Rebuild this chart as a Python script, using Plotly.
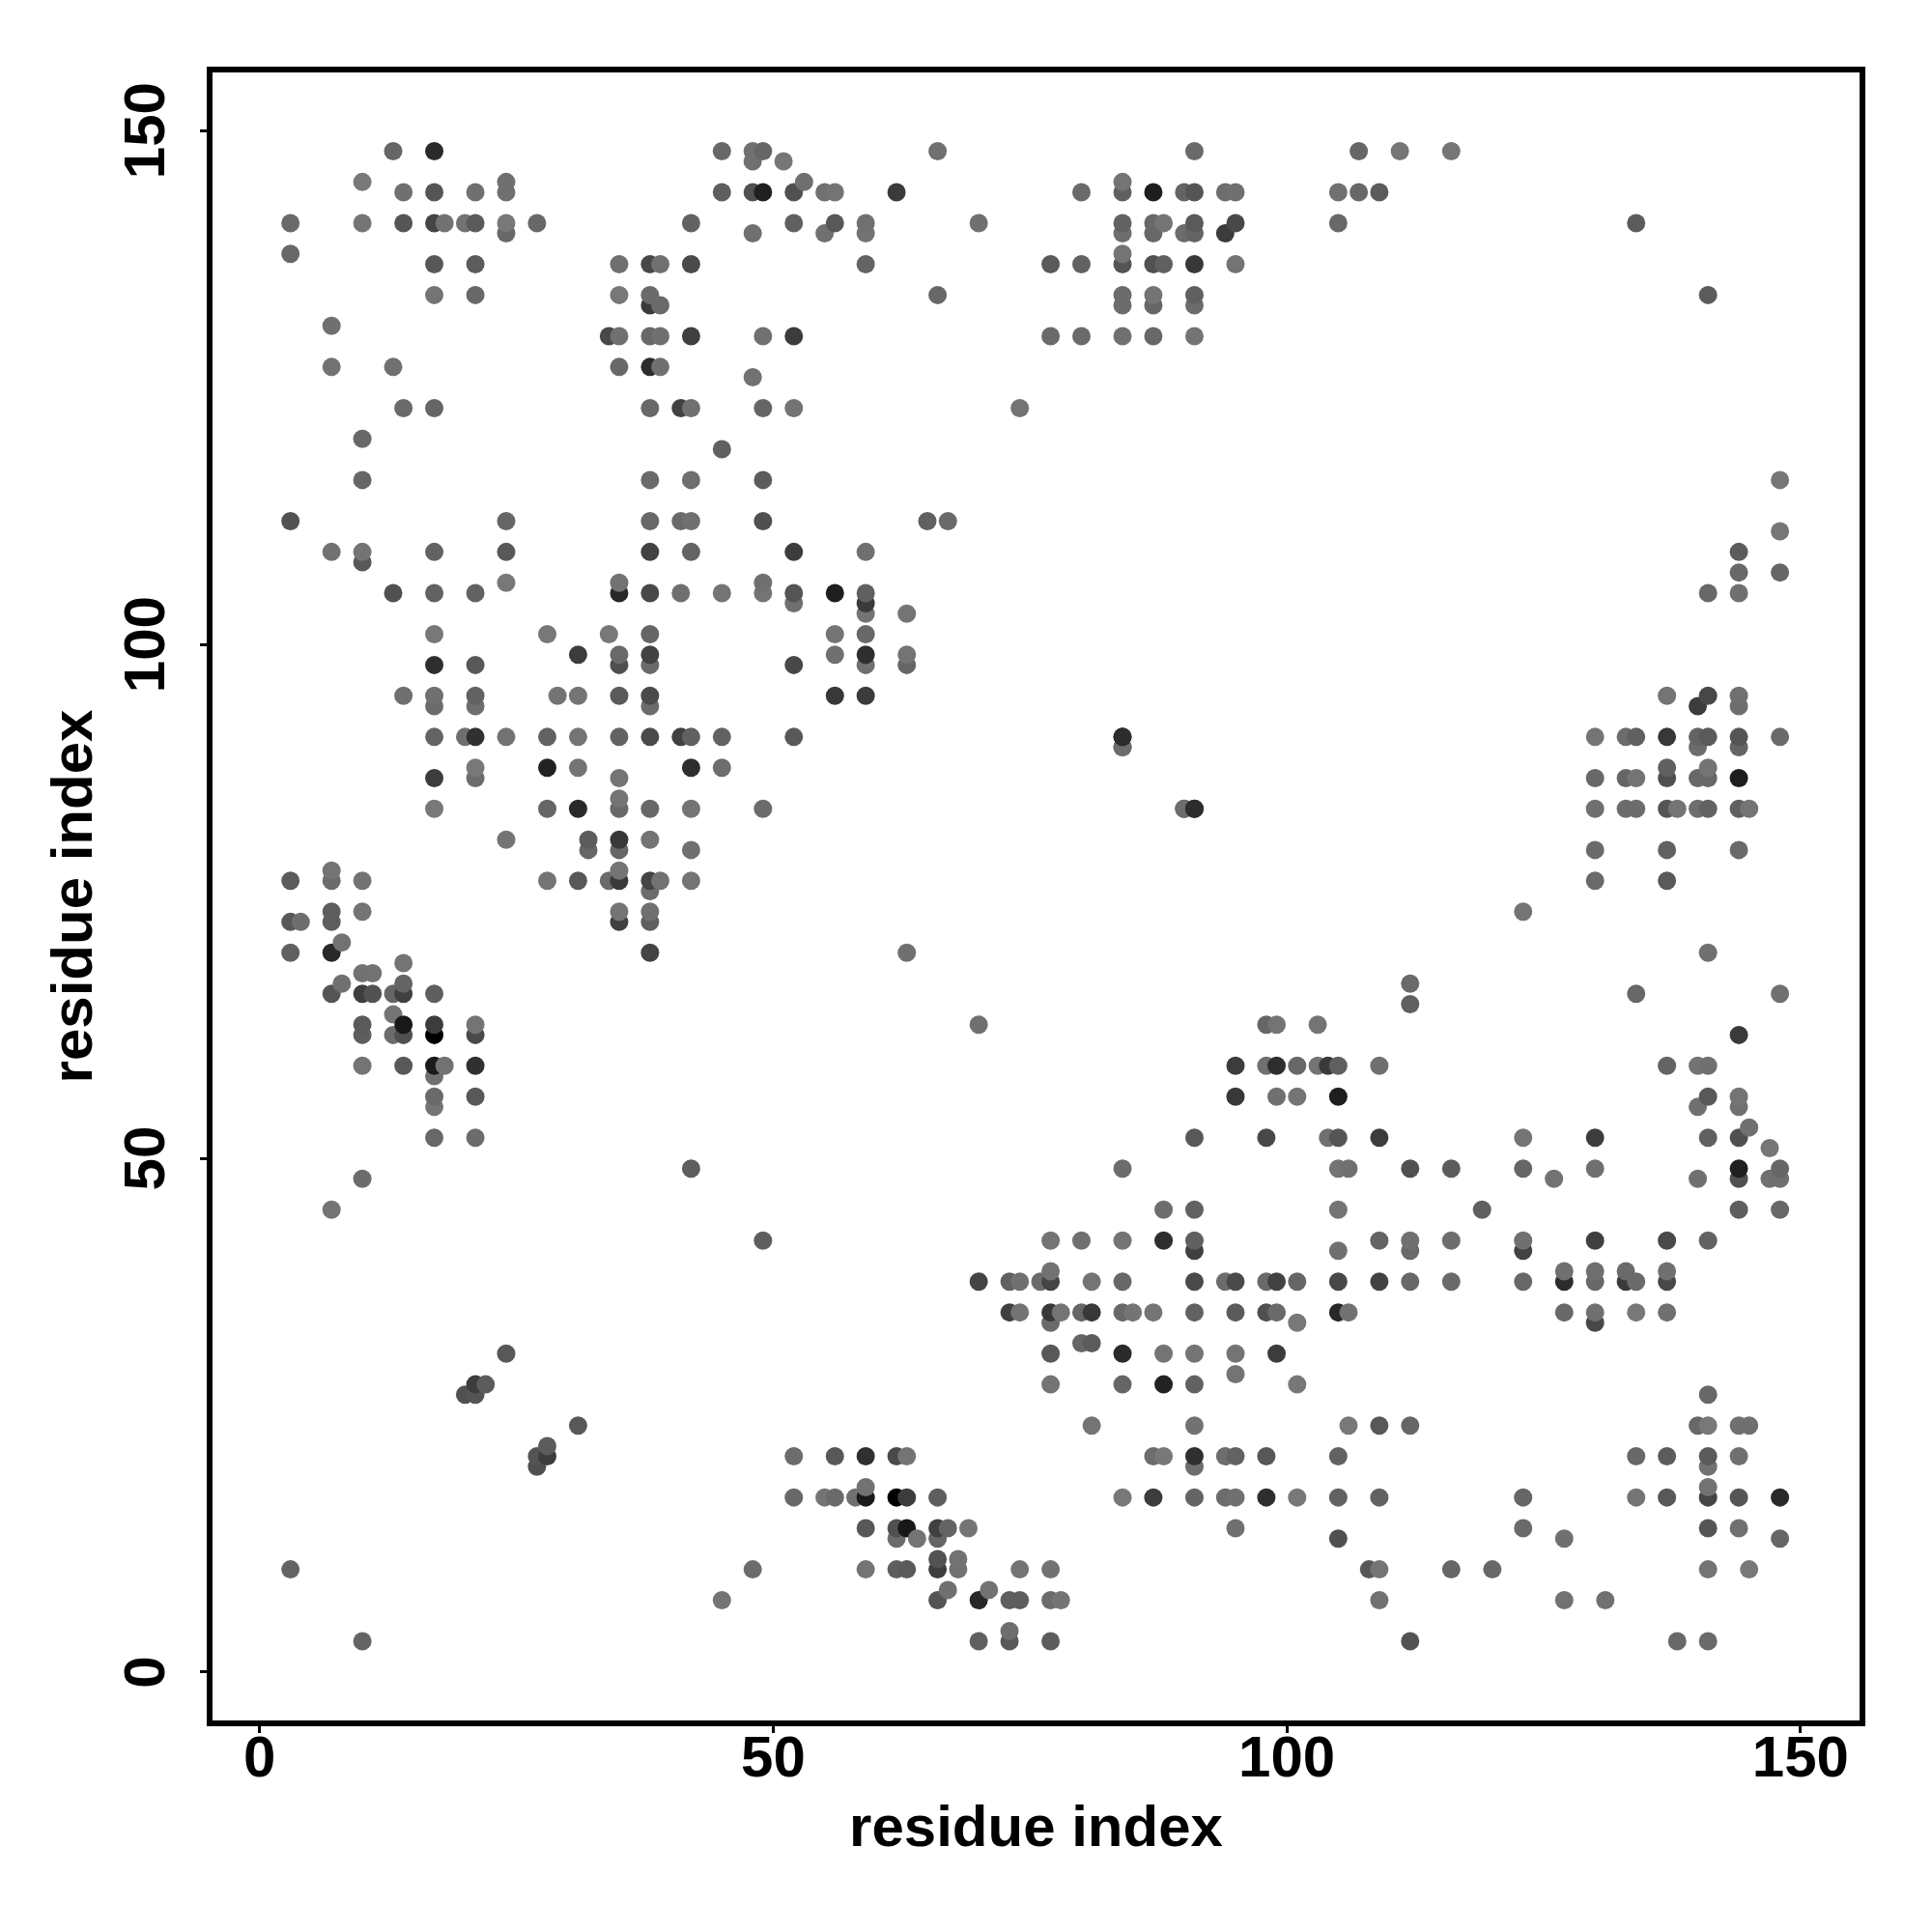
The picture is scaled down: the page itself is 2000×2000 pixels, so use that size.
import plotly.graph_objects as go

# Contact pairs: residue_j -> [(residue_i, grey level)]
row_148 = [(13,0x66),(17,0x2a),(45,0x68),(48,0x70),(49,0x66),(66,0x70),(91,0x6a),(107,0x66),(111,0x76),(116,0x76)]
row_147 = [(48,0x70),(51,0x76)]
row_145 = [(10,0x78),(24,0x70),(53,0x70),(84,0x74)]
row_144 = [(14,0x70),(17,0x55),(21,0x70),(24,0x70),(45,0x5e),(48,0x50),(49,0x20),(52,0x50),(55,0x70),(56,0x74),(62,0x3a),(80,0x6a),(84,0x60),(87,0x1e),(90,0x64),(91,0x55),(94,0x6e),(95,0x70),(105,0x70),(107,0x68),(109,0x5c)]
row_141 = [(3,0x6a),(10,0x74),(14,0x55),(17,0x45),(18,0x72),(20,0x72),(21,0x5a),(24,0x78),(27,0x68),(42,0x62),(52,0x60),(56,0x58),(59,0x70),(70,0x70),(84,0x62),(87,0x68),(88,0x74),(91,0x5a),(95,0x48),(105,0x68),(134,0x5c)]
row_140 = [(24,0x68),(48,0x70),(55,0x70),(59,0x74),(84,0x6e),(87,0x68),(90,0x6c),(91,0x64),(94,0x3c)]
row_138 = [(3,0x68),(84,0x74)]
row_137 = [(17,0x58),(21,0x5c),(35,0x70),(38,0x48),(39,0x70),(42,0x4a),(59,0x64),(77,0x5a),(80,0x62),(84,0x55),(87,0x50),(88,0x60),(91,0x38),(95,0x74)]
row_134 = [(17,0x74),(21,0x68),(35,0x78),(38,0x6a),(66,0x68),(84,0x6c),(87,0x74),(91,0x60)]
row_133 = [(38,0x3a),(39,0x6a),(84,0x6c),(87,0x66),(91,0x6c)]
row_131 = [(7,0x70)]
row_130 = [(34,0x48),(35,0x70),(38,0x68),(39,0x70),(42,0x40),(49,0x70),(52,0x3c),(77,0x6a),(80,0x6a),(84,0x70),(87,0x68),(91,0x74)]
row_127 = [(7,0x72),(13,0x70),(35,0x68),(38,0x2c),(39,0x70)]
row_126 = [(48,0x72)]
row_123 = [(14,0x6a),(17,0x66),(38,0x68),(41,0x42),(42,0x70),(49,0x66),(52,0x74),(74,0x74)]
row_120 = [(10,0x68)]
row_119 = [(45,0x60)]
row_116 = [(10,0x66),(38,0x6a),(42,0x6e),(49,0x5c)]
row_112 = [(3,0x52),(24,0x66),(38,0x68),(41,0x6a),(42,0x70),(49,0x50),(65,0x60),(67,0x6a)]
row_109 = [(7,0x72),(10,0x74),(17,0x62),(24,0x58),(38,0x42),(42,0x64),(52,0x3c),(59,0x70)]
row_108 = [(10,0x58)]
row_106 = [(24,0x78),(35,0x72),(49,0x70)]
row_105 = [(13,0x50),(17,0x62),(21,0x62),(35,0x28),(38,0x48),(41,0x70),(45,0x74),(49,0x74),(52,0x55),(56,0x1e),(59,0x60)]
row_104 = [(52,0x70),(59,0x3a)]
row_103 = [(59,0x74),(63,0x74)]
row_101 = [(17,0x78),(28,0x78),(34,0x78),(38,0x66),(56,0x74),(59,0x68)]
row_99 = [(31,0x3c),(35,0x6a),(38,0x42),(56,0x70),(59,0x2e),(63,0x74)]
row_98 = [(17,0x2e),(21,0x58),(35,0x50),(38,0x6a),(52,0x48),(59,0x70),(63,0x66)]
row_95 = [(14,0x70),(17,0x70),(21,0x62),(29,0x74),(31,0x74),(35,0x5a),(38,0x4a),(56,0x38),(59,0x3c)]
row_94 = [(17,0x6c),(21,0x6e),(38,0x6c)]
row_91 = [(17,0x64),(20,0x6e),(21,0x30),(24,0x72),(28,0x62),(31,0x74),(35,0x62),(38,0x4a),(41,0x40),(42,0x60),(45,0x62),(52,0x58),(84,0x2a)]
row_90 = [(84,0x66)]
row_88 = [(21,0x78),(28,0x22),(31,0x74),(42,0x2e),(45,0x6e)]
row_87 = [(17,0x3c),(21,0x6c),(35,0x74)]
row_85 = [(35,0x74)]
row_84 = [(17,0x78),(28,0x66),(31,0x2a),(35,0x68),(38,0x68),(42,0x74),(49,0x6c),(90,0x6c),(91,0x2c)]
row_81 = [(24,0x74),(32,0x5c),(35,0x38),(38,0x74)]
row_80 = [(32,0x66),(35,0x66),(42,0x70)]
row_78 = [(7,0x74),(35,0x74)]
row_77 = [(3,0x5c),(7,0x6c),(10,0x72),(28,0x74),(31,0x58),(34,0x6a),(35,0x38),(38,0x44),(39,0x72),(42,0x74)]
row_76 = [(38,0x6c)]
row_74 = [(7,0x5e),(10,0x74),(35,0x74),(38,0x70)]
row_73 = [(3,0x58),(4,0x6e),(7,0x5e),(35,0x40),(38,0x60)]
row_71 = [(8,0x72)]
row_70 = [(3,0x60),(7,0x28),(38,0x44),(63,0x70)]
row_69 = [(14,0x74)]
row_68 = [(10,0x72),(11,0x72)]
row_67 = [(8,0x70),(14,0x64)]
row_66 = [(7,0x54),(10,0x3e),(11,0x52),(13,0x66),(14,0x40),(17,0x5e)]
row_64 = [(13,0x74)]
row_63 = [(10,0x5a),(14,0x18),(17,0x3c),(21,0x74)]
row_62 = [(10,0x5e),(13,0x6c),(14,0x50),(17,0x00),(21,0x4a)]
row_59 = [(10,0x74),(14,0x58),(17,0x1a),(18,0x72),(21,0x30)]
row_58 = [(17,0x70)]
row_56 = [(17,0x6a),(21,0x58)]
row_55 = [(17,0x74)]
row_52 = [(17,0x68),(21,0x6c)]
row_49 = [(42,0x5e)]
row_48 = [(10,0x6c)]
row_45 = [(7,0x74)]
row_31 = [(24,0x58)]
row_28 = [(21,0x3c),(22,0x5c)]
row_27 = [(20,0x50),(21,0x54)]
row_10 = [(3,0x64)]

tick_values = [0, 50, 100, 150]
tick_labels = ["0", "50", "100", "150"]
axis_label = "residue index"

rows = {148:row_148,147:row_147,145:row_145,144:row_144,141:row_141,140:row_140,138:row_138,137:row_137,
        134:row_134,133:row_133,131:row_131,130:row_130,127:row_127,126:row_126,123:row_123,120:row_120,
        119:row_119,116:row_116,112:row_112,109:row_109,108:row_108,106:row_106,105:row_105,104:row_104,
        103:row_103,101:row_101,99:row_99,98:row_98,95:row_95,94:row_94,91:row_91,90:row_90,88:row_88,
        87:row_87,85:row_85,84:row_84,81:row_81,80:row_80,78:row_78,77:row_77,76:row_76,74:row_74,73:row_73,
        71:row_71,70:row_70,69:row_69,68:row_68,67:row_67,66:row_66,64:row_64,63:row_63,62:row_62,59:row_59,
        58:row_58,56:row_56,55:row_55,52:row_52,49:row_49,48:row_48,45:row_45,31:row_31,28:row_28,27:row_27,
        10:row_10}

# a contact map holds each contact (i, j) and its mirror (j, i); later residues are painted on top
points = []
for j, row in rows.items():
    for i, g in row:
        points.append((i, j, g))
        points.append((j, i, g))
points.sort()

fig = go.Figure(go.Scatter(
    x=[p[0] for p in points],
    y=[p[1] for p in points],
    mode="markers",
    marker=dict(size=19, color=[f"rgb({p[2]},{p[2]},{p[2]})" for p in points], line=dict(width=0)),
    cliponaxis=False,
    hoverinfo="skip",
))

tick_font = dict(family="Liberation Sans", size=60, color="black", weight="bold")
title_font = dict(family="Liberation Sans", size=60, color="black", weight="bold")
FIG = 1984
OFF = 8
L, R, T, B = 216.5, 1928, 72, 1783.7
PX = 10.637
xr = [(L - 268.3) / PX, (R - 268.3) / PX]
yr = [(1730.7 - B) / PX, (1730.7 - T) / PX]
common = dict(tickvals=tick_values, ticktext=tick_labels, tickfont=tick_font, ticks="outside", ticklen=9, tickwidth=3,
              tickcolor="black", showgrid=False, zeroline=False, showline=False, title_font=title_font)

fig.update_layout(
    width=FIG, height=FIG,
    margin=dict(l=L-OFF, r=FIG-(R-OFF), t=T-OFF, b=FIG-(B-OFF), pad=0, autoexpand=False),
    paper_bgcolor="white", plot_bgcolor="white", showlegend=False,
    xaxis=dict(range=xr, title=dict(text=axis_label, standoff=17), ticklabelstandoff=-27, **common),
    yaxis=dict(range=yr, title=dict(text=axis_label, standoff=1), tickangle=-90, ticklabelstandoff=13, ticklabelshift=9, **common),
    shapes=[dict(type="rect", xref="paper", yref="paper", x0=0, x1=1, y0=0, y1=1, line=dict(color="black", width=6), layer="above")],
)
fig.write_html("out.html")
